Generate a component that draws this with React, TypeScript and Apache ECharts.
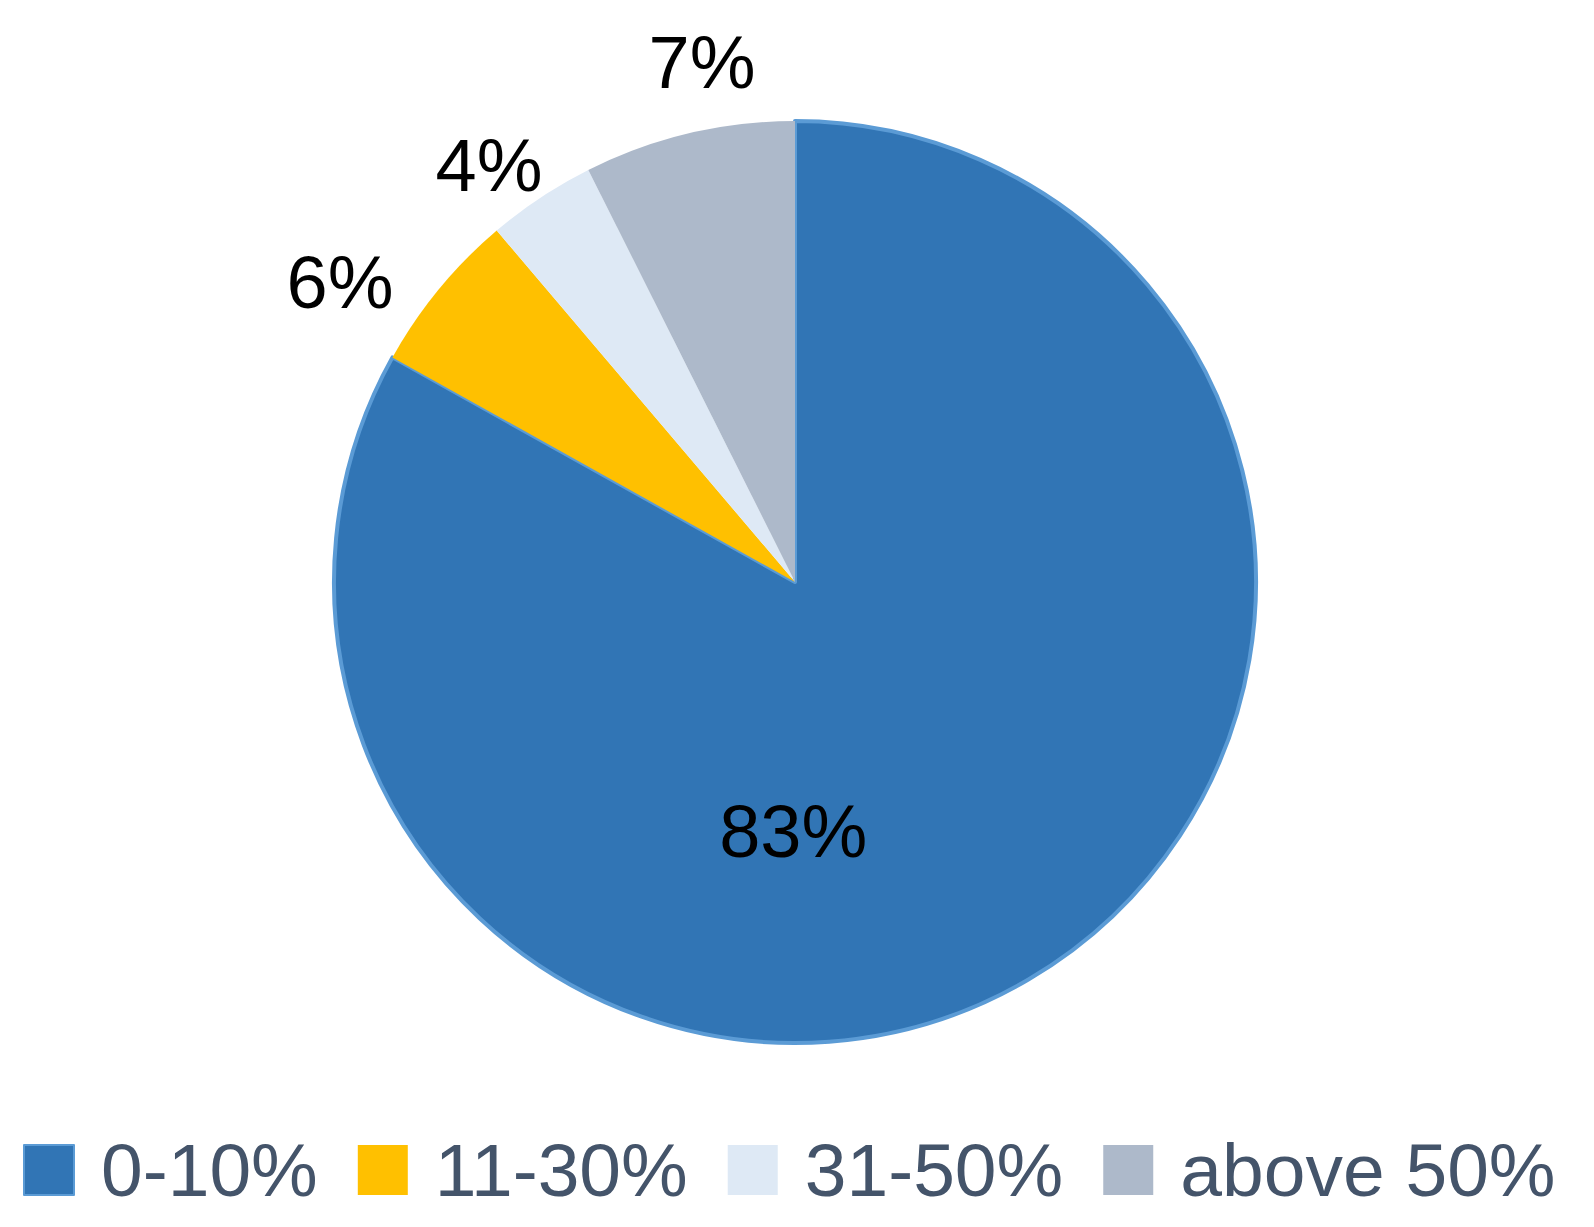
import React, { useEffect, useRef } from "react";
import * as echarts from "echarts";

const categories = ["0-10%", "11-30%", "31-50%", "above 50%"];
const values = [83.1, 5.7, 3.8, 7.4];
const colors = ["#3175B5", "#FFC000", "#DEE9F5", "#ADB9CA"];
const labelShift = [
  [-120, 48],
  [-37, 0],
  [24, -34],
  [74, -61],
];

export default function App() {
  const ref = useRef<HTMLDivElement>(null);
  useEffect(() => {
    if (!ref.current) return;
    const chart = echarts.init(ref.current, undefined, { renderer: "svg" });
    const font = "'Liberation Sans', Arial, sans-serif";
    chart.setOption({
      animation: false,
      backgroundColor: "#ffffff",
      legend: {
        data: categories,
        left: 18,
        top: 1127,
        icon: "rect",
        itemWidth: 50,
        itemHeight: 50,
        itemGap: 40,
        textStyle: {
          fontSize: 75,
          lineHeight: 76,
          color: "#44546A",
          fontFamily: font,
          padding: [0, 0, 0, 22],
        },
      },
      series: [
        {
          type: "pie",
          center: [795, 582],
          radius: 461,
          startAngle: 90,
          clockwise: true,
          data: categories.map((name, i) => ({
            name,
            value: values[i],
            itemStyle: {
              color: colors[i],
              borderColor: i === 0 ? "#5B9BD5" : colors[i],
              borderWidth: i === 0 ? 4 : 0,
            },
            label:
              i === 0
                ? { position: "inside" }
                : { position: "outside" },
          })),
          label: {
            formatter: (p: any) => Math.round(p.value) + "%",
            fontSize: 74,
            color: "#000000",
            fontFamily: font,
          },
          labelLine: { show: false, length: 10, length2: 0 },
          labelLayout: (p: any) => ({
            dx: labelShift[p.dataIndex][0],
            dy: labelShift[p.dataIndex][1],
          }),
        },
      ],
    });
    return () => chart.dispose();
  }, []);
  return (
    <div
      ref={ref}
      style={{ position: "fixed", left: 0, top: 0, width: 1594, height: 1227 }}
    />
  );
}
